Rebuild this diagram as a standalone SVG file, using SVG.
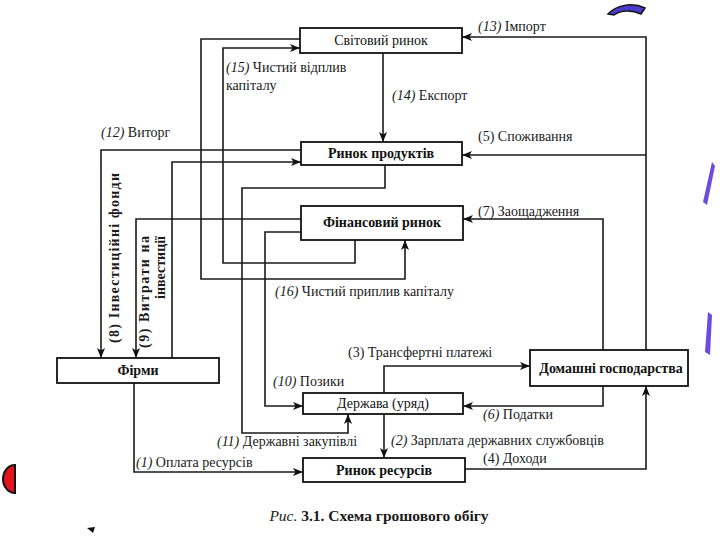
<svg xmlns="http://www.w3.org/2000/svg" width="720" height="540" viewBox="0 0 720 540">
<style>
.box{fill:#fff;stroke:#111;stroke-width:1.8}
.nl{font-family:"Liberation Serif","DejaVu Serif",serif;font-size:14px;fill:#111;text-anchor:middle}
.b{font-weight:bold}
.c{fill:none;stroke:#1a1a1a;stroke-width:1.6}
.a{marker-end:url(#ah)}
.lb{font-family:"Liberation Serif","DejaVu Serif",serif;font-size:14px;fill:#1a1a1a}
.vl{font-family:"Liberation Serif","DejaVu Serif",serif;font-size:14px;font-weight:bold;fill:#1a1a1a}
.cap{font-family:"Liberation Serif","DejaVu Serif",serif;font-size:15.5px;font-weight:bold;fill:#1a1a1a;text-anchor:middle}
</style>
<defs>
<marker id="ah" viewBox="0 0 10 8" refX="10" refY="4" markerWidth="10" markerHeight="8" markerUnits="userSpaceOnUse" orient="auto">
<path d="M0,0 L10,4 L0,8 L2.5,4 z" fill="#111"/>
</marker>
</defs>
<rect width="720" height="540" fill="#fff"/>

<g id="connectors">
<path class="c a" d="M646,350 V37 H462"/>
<path class="c a" d="M646,155 H462"/>
<path class="c a" d="M383,53 V142"/>
<path class="c a" d="M300,39 H201 V279 H405 V240"/>
<path class="c a" d="M355,240 V263 H223 V48 H300"/>
<path class="c a" d="M301,150 H101 V358"/>
<path class="c a" d="M301,219 H136 V358"/>
<path class="c a" d="M172,358 V162 H301"/>
<path class="c a" d="M385,165 V188 H242 V433 H348 V414"/>
<path class="c a" d="M301,232 H265 V406 H303"/>
<path class="c a" d="M603,350 V219 H463"/>
<path class="c a" d="M384,393 V366 H530"/>
<path class="c a" d="M603,386 V406 H463"/>
<path class="c a" d="M384,414 V458"/>
<path class="c a" d="M465,469 H646 V386"/>
<path class="c a" d="M134,383 V472 H303"/>
</g>

<g id="world-market"><rect class="box" x="300" y="28" width="162" height="25"/><text class="nl" x="381" y="45">Світовий ринок</text></g>
<g id="product-market"><rect class="box" x="301" y="142" width="161" height="23"/><text class="nl b" x="381" y="158">Ринок продуктів</text></g>
<g id="financial-market"><rect class="box" x="301" y="206" width="162" height="34"/><text class="nl b" x="382" y="227">Фінансовий ринок</text></g>
<g id="firms"><rect class="box" x="57" y="358" width="162" height="25"/><text class="nl b" x="138" y="375">Фірми</text></g>
<g id="households"><rect class="box" x="530" y="350" width="158" height="36"/><text class="nl b" x="611" y="373">Домашні господарства</text></g>
<g id="government"><rect class="box" x="303" y="393" width="160" height="21"/><text class="nl" x="383" y="408">Держава (уряд)</text></g>
<g id="resource-market"><rect class="box" x="303" y="458" width="162" height="24"/><text class="nl b" x="384" y="475">Ринок ресурсів</text></g>

<g id="labels">
<text class="lb" x="478" y="31"><tspan font-style="italic">(13)</tspan> Імпорт</text>
<text class="lb" x="226" y="72"><tspan font-style="italic">(15)</tspan> Чистий відплив</text>
<text class="lb" x="226" y="90">капіталу</text>
<text class="lb" x="392" y="100"><tspan font-style="italic">(14)</tspan> Експорт</text>
<text class="lb" x="101" y="137"><tspan font-style="italic">(12)</tspan> Виторг</text>
<text class="lb" x="478" y="141">(5) Споживання</text>
<text class="lb" x="478" y="216">(7) Заощадження</text>
<text class="lb" x="275" y="296"><tspan font-style="italic">(16)</tspan> Чистий приплив капіталу</text>
<text class="lb" x="348" y="357">(3) Трансфертні платежі</text>
<text class="lb" x="273" y="386"><tspan font-style="italic">(10)</tspan> Позики</text>
<text class="lb" x="483" y="419"><tspan font-style="italic">(6)</tspan> Податки</text>
<text class="lb" x="217" y="446"><tspan font-style="italic">(11)</tspan> Державні закупівлі</text>
<text class="lb" x="391" y="445"><tspan font-style="italic">(2)</tspan> Зарплата державних службовців</text>
<text class="lb" x="483" y="463">(4) Доходи</text>
<text class="lb" x="136" y="467"><tspan font-style="italic">(1)</tspan> Оплата ресурсів</text>
<text class="vl" transform="translate(119,343) rotate(-90)" textLength="170" lengthAdjust="spacing">(8) Інвестиційні фонди</text>
<text class="vl" transform="translate(149,236) rotate(-90)" text-anchor="end" textLength="112" lengthAdjust="spacing">(9) Витрати на</text>
<text class="vl" transform="translate(165,236) rotate(-90)" text-anchor="end">інвестиції</text>
<text class="cap" x="379" y="521"><tspan font-style="italic" font-weight="normal">Рис.</tspan> 3.1. Схема грошового обігу</text>
</g>

<g id="decor">
<path d="M608,14 C616,5 632,2 645,8 L641,14 C632,10 621,10 614,15 Z" fill="#4b3bc9" stroke="#111" stroke-width="1.5"/>
<path d="M712,162 L715,166 L707,205 L703,202 Z" fill="#6a4ce0"/>
<path d="M708,312 L712,315 L710,355 L705,352 Z" fill="#6a4ce0"/>
<path d="M15,465 A12,14 0 0 0 15,493 Z" fill="#e0141e" stroke="#111" stroke-width="2"/>
<path d="M87,528 L95,527 L93,533 Z" fill="#111"/>
</g>
</svg>
